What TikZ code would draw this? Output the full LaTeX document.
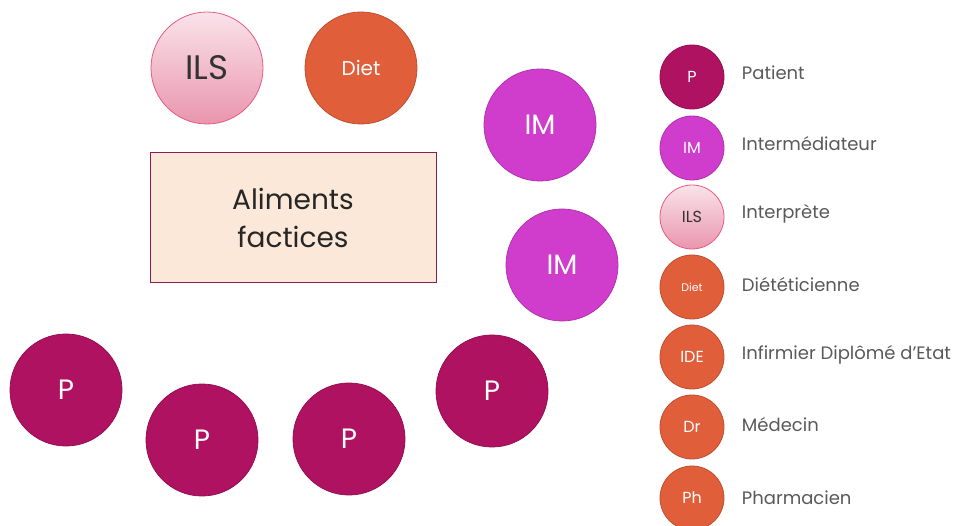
\documentclass[tikz,border=0pt]{standalone}
\usepackage{fontspec}
\setmainfont{Poppins}
\usetikzlibrary{positioning}

\definecolor{patientcol}{HTML}{AE1260}
\definecolor{imcol}{HTML}{D03CCB}
\definecolor{soincol}{HTML}{E05E3A}
\definecolor{ilsline}{HTML}{E55A85}
\definecolor{ilstop}{HTML}{FAE3EA}
\definecolor{ilsbot}{HTML}{E995AE}
\definecolor{boxfill}{HTML}{FBE8D9}
\definecolor{boxline}{HTML}{8E1D52}
\definecolor{legtext}{HTML}{595959}

\newcommand{\fs}[1]{\fontsize{#1}{#1}\selectfont}

\tikzset{
  role/.style={circle, inner sep=0pt, minimum size=112pt, text=white, line width=0.8pt},
  patient/.style={role, fill=patientcol, draw=patientcol!85!black},
  inter/.style={role, fill=imcol, draw=imcol!85!black},
  soin/.style={role, fill=soincol, draw=soincol!85!black},
  interp/.style={role, top color=ilstop, bottom color=ilsbot, draw=ilsline, text=black!80},
  legcirc/.style={minimum size=64pt},
  legtxt/.style={anchor=west, text=legtext, font=\fs{18}}
}

\begin{document}
\begin{tikzpicture}[x=1pt, y=-1pt]
\useasboundingbox (0,0) rectangle (974,526);

% table with the dummy food
\node[draw=boxline, line width=1pt, fill=boxfill, minimum width=286pt, minimum height=130pt,
  align=center, text=black!85, font=\fontsize{28}{38}\selectfont] (table) at (293,218) {Aliments\\factices};

% staff around the table
\node[interp, font=\fs{34}] (ils) at (207,68) {ILS};
\node[soin, font=\fs{20}] (diet) at (361,68) {Diet};
\node[inter, font=\fs{28}] (im1) at (540,125) {IM};
\node[inter, font=\fs{28}] (im2) at (562,265) {IM};

% patients
\node[patient, font=\fs{28}] (p1) at (66,390) {P};
\node[patient, font=\fs{28}] (p2) at (202,440) {P};
\node[patient, font=\fs{28}] (p3) at (349,439) {P};
\node[patient, font=\fs{28}] (p4) at (492,391) {P};

% legend
\node[patient, legcirc, font=\fs{16}] (lgp) at (692,77) {P};
\node[inter, legcirc, font=\fs{16}] (lgim) at (692,148) {IM};
\node[interp, legcirc, font=\fs{16}] (lgils) at (692,217) {ILS};
\node[soin, legcirc, font=\fs{11}] (lgdiet) at (692,287) {Diet};
\node[soin, legcirc, font=\fs{16}] (lgide) at (692,357) {IDE};
\node[soin, legcirc, font=\fs{16}] (lgdr) at (692,427) {Dr};
\node[soin, legcirc, font=\fs{16}] (lgph) at (692,498) {Ph};

\node[legtxt, right=14pt of lgp.east, yshift=4pt] (tp) {Patient};
\node[legtxt, right=14pt of lgim.east, yshift=4pt] (tim) {Intermédiateur};
\node[legtxt, right=14pt of lgils.east, yshift=3pt] (tils) {Interprète};
\node[legtxt, right=14pt of lgdiet.east, yshift=2pt] (tdiet) {Diététicienne};
\node[legtxt, right=14pt of lgide.east, yshift=2pt] (tide) {Infirmier Diplômé d’Etat};
\node[legtxt, right=14pt of lgdr.east, yshift=2pt] (tdr) {Médecin};
\node[legtxt, right=14pt of lgph.east] (tph) {Pharmacien};
\end{tikzpicture}
\end{document}
